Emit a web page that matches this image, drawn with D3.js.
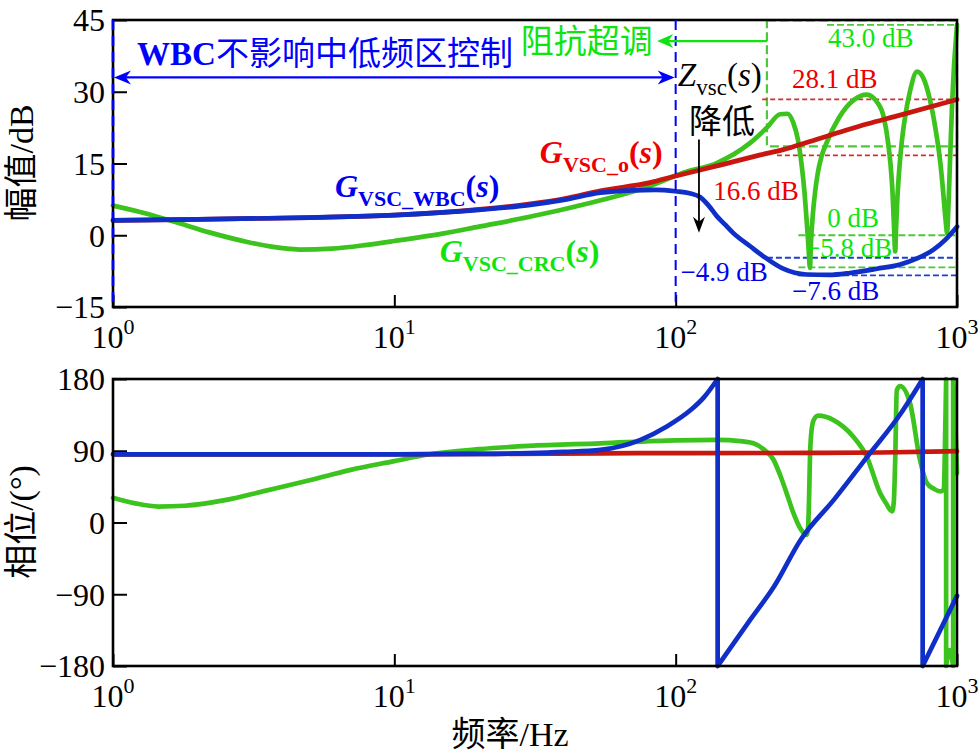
<!DOCTYPE html>
<html><head><meta charset="utf-8">
<script src="https://cdn.jsdelivr.net/npm/d3@7"></script>
<style>body{margin:0;background:#fff}</style></head>
<body>
<svg id="c" width="980" height="753"></svg>
<script>
// ---------------- DATA ----------------
const magTicks = [-15, 0, 15, 30, 45];
const phaseTicks = [-180, -90, 0, 90, 180];
const freqTicks = [1, 10, 100, 1000];
const freqTickExp = ["0", "1", "2", "3"];

// Magnitude (dB)
const redMagF = [1, 2, 5, 10, 20, 30, 40, 54, 81, 100, 140, 200, 241, 300, 400, 482, 600, 800, 1000];
const redMag  = [3.1, 3.3, 3.7, 4.2, 5.4, 6.5, 7.6, 9.3, 11.0, 12.4, 14.5, 16.8, 17.9, 19.6, 21.9, 23.3, 24.8, 26.8, 28.4];

const blueMagF = [1, 2, 5, 10, 20, 30, 40, 54, 70, 85, 100, 112, 122, 131, 140, 150, 160, 184, 205, 241, 292, 350, 417, 520, 628, 725, 825, 910, 1000];
const blueMag  = [3.1, 3.3, 3.7, 4.2, 5.3, 6.3, 7.4, 8.9, 9.4, 9.5, 9.2, 8.8, 8.0, 6.2, 4.0, 2.2, 0.5, -2.3, -4.4, -7.0, -8.2, -8.3, -7.9, -7.0, -6.1, -4.8, -3.0, -0.9, 1.8];

const greenMagF = [1, 1.3, 1.7, 2.2, 3, 4, 4.6, 6, 8, 10, 15, 20, 30, 50, 70, 81, 107, 140, 184, 211, 235, 250, 262, 272, 280, 287, 293, 297, 300, 303, 307, 313, 320, 330, 345, 380, 430, 478, 520, 550, 570, 580, 590, 597, 603, 607, 613, 622, 635, 655, 680, 721, 760, 800, 840, 871, 890, 905, 915, 922, 928, 935, 945, 960, 975, 990, 1000];
const greenMag  = [6.2, 4.6, 2.6, 0.6, -1.4, -2.7, -3.0, -2.8, -2.0, -1.2, 0.4, 1.8, 3.8, 6.8, 9.1, 10.3, 13.1, 15.1, 19.3, 22.5, 25.3, 25.4, 23.5, 20, 15, 9, 2, -3, -6.8, -1, 4, 9, 13, 16.5, 19.5, 24.5, 28.3, 29.4, 27.8, 24.5, 19, 15, 9, 2, -3.4, 1, 7, 13, 19, 25, 30, 34.2, 32.8, 28.5, 22, 15.5, 10, 5, 2, 0.5, 3, 8, 16, 27, 35, 40.5, 44];

// Phase (deg) — repeated frequency = wrap between +180 and -180
const redPhF = [1, 10, 54, 100, 300, 536, 1000];
const redPh  = [85.5, 85.6, 86.8, 87, 87.3, 87.8, 89.5];

const bluePhF = [1, 10, 20, 30, 40, 54, 75, 93, 113, 126, 141, 141, 185, 224, 279, 366, 481, 632, 755, 755, 1000];
const bluePh  = [85.5, 85.5, 86, 87, 88.5, 91, 103.6, 120.4, 141, 157, 180, -180, -121, -80, -21, 29, 83, 137, 180, -180, -92];

const greenPhF = [1, 1.2, 1.45, 1.8, 2.5, 3.5, 5, 7, 10, 13, 20, 30, 54, 100, 141, 170, 189, 205, 223, 236, 248, 262, 279, 292, 295, 298, 300, 303, 309, 321, 364, 428, 478, 533, 560, 578, 588, 596, 603, 611, 628, 681, 739, 781, 830, 871, 894, 915, 915, 941, 969, 969, 985, 1000];
const greenPh  = [31, 24, 20, 21, 28, 40, 53, 66, 77, 85, 92, 96, 99.3, 103, 103.6, 102, 99.3, 92, 78.4, 58, 36.8, 12, -9, -15.4, -10, 30, 78, 110, 128, 134, 128.5, 107.6, 82.6, 36.8, 24, 16, 14, 25, 78, 166, 171, 149.6, 78, 49.6, 42, 39, 41, 180, -180, -160, -180, 180, 130, 62];

// Reference dashed lines: [fStart, fEnd, dB]
const redRefLines   = [[203, 1000, 28.4], [229, 1000, 16.7]];
const greenRefLines = [[345, 1000, 44.0], [273, 1000, 0], [273, 1000, -6.7]];
const blueRefLines  = [[211, 1000, -4.7], [272, 1000, -8.4]];
const greenBox = [211, 1000, 18.6, 44.9];

// ---------------- SETUP ----------------
const svg = d3.select("#c");
const SERIF = "'Liberation Serif','Times New Roman','Noto Sans CJK SC',serif";
const x  = d3.scaleLog().domain([1, 1000]).range([113, 957]);
const yM = d3.scaleLinear().domain([-15, 45]).range([307, 20]);
const yP = d3.scaleLinear().domain([-180, 180]).range([666, 379]);

const C = {
  red: "#c8170f", green: "#3cc31e", blue: "#0f2fc8",
  tRed: "#ee0000", tGreen: "#0ee40e", tBlue: "#0000ee",
  dRed: "#d03030", dGreen: "#4cc83a", dBlue: "#1f3fd0"
};

function zip(f, v) { return f.map((d, i) => ({f: d, v: v[i]})); }

// ---------------- AXES ----------------
function drawPanel(y, ticks, top, bottom) {
  const g = svg.append("g");
  const ax = d3.axisLeft(y).tickValues(ticks).tickSizeInner(-14).tickSizeOuter(0).tickPadding(8)
    .tickFormat(d => d < 0 ? "\u2212" + Math.abs(d) : String(d));
  const ga = g.append("g").attr("transform", `translate(${x.range()[0]},0)`).call(ax);
  ga.select(".domain").remove();
  ga.selectAll(".tick line").attr("stroke", "#000").attr("stroke-width", 2);
  ga.selectAll(".tick text").attr("font-family", SERIF).attr("font-size", 32).attr("fill", "#000").attr("dy", "0.34em");

  const bx = d3.axisBottom(x).tickValues(freqTicks).tickSizeInner(-12).tickSizeOuter(0).tickFormat("");
  const gb = g.append("g").attr("transform", `translate(0,${bottom})`).call(bx);
  gb.select(".domain").remove();
  gb.selectAll(".tick line").attr("stroke", "#000").attr("stroke-width", 2);
  freqTicks.forEach((t, i) => {
    const tx = g.append("text").attr("x", x(t)).attr("y", bottom + 41)
      .attr("text-anchor", "middle").attr("font-family", SERIF).attr("fill", "#000");
    tx.append("tspan").attr("font-size", 32).text("10");
    tx.append("tspan").attr("font-size", 22).attr("dy", -14).text(freqTickExp[i]);
  });
  return g;
}
drawPanel(yM, magTicks, 20, 307);
drawPanel(yP, phaseTicks, 379, 666);

// Axis titles
svg.append("text").attr("transform", "translate(33,163) rotate(-90)").attr("text-anchor", "middle")
  .attr("font-family", SERIF).attr("font-size", 34).text("幅值/dB");
svg.append("text").attr("transform", "translate(33,522) rotate(-90)").attr("text-anchor", "middle")
  .attr("font-family", SERIF).attr("font-size", 34).text("相位/(°)");
svg.append("text").attr("x", 510).attr("y", 746).attr("text-anchor", "middle")
  .attr("font-family", SERIF).attr("font-size", 34).text("频率/Hz");

// ---------------- REFERENCE LINES (magnitude) ----------------
const gRef = svg.append("g");
gRef.append("rect").attr("x", x(greenBox[0])).attr("y", yM(greenBox[3]))
  .attr("width", x(greenBox[1]) - x(greenBox[0])).attr("height", yM(greenBox[2]) - yM(greenBox[3]))
  .attr("fill", "none").attr("stroke", C.dGreen).attr("stroke-width", 2.2).attr("stroke-dasharray", "9,4");
function refLines(arr, color, dash, w) {
  arr.forEach(r => gRef.append("line").attr("x1", x(r[0])).attr("x2", x(r[1]))
    .attr("y1", yM(r[2])).attr("y2", yM(r[2])).attr("stroke", color)
    .attr("stroke-width", w).attr("stroke-dasharray", dash));
}
refLines(redRefLines, C.dRed, "5,3", 1.6);
refLines(greenRefLines, C.dGreen, "7,3", 1.8);
refLines(blueRefLines, C.dBlue, "6,3", 1.8);

// ---------------- CURVES ----------------
const lineM = d3.line().x(d => x(d.f)).y(d => yM(d.v)).curve(d3.curveMonotoneX);
const lineP = d3.line().x(d => x(d.f)).y(d => yP(d.v)).curve(d3.curveMonotoneX);
const SW = 4.7;

function drawMag(f, v, color) {
  svg.append("path").datum(zip(f, v)).attr("d", lineM).attr("fill", "none")
    .attr("stroke", color).attr("stroke-width", SW).attr("stroke-linejoin", "round").attr("stroke-linecap", "round");
}
function drawPhase(f, v, color) {
  const pts = zip(f, v);
  const segs = [[]];
  pts.forEach((p, i) => {
    if (i > 0 && p.f === pts[i - 1].f) segs.push([]);
    segs[segs.length - 1].push(p);
  });
  let d = "";
  segs.forEach((s, i) => {
    if (s.length > 1) d += lineP(s);
    if (i > 0) {
      const a = segs[i - 1][segs[i - 1].length - 1], b = s[0];
      d += `M${x(a.f)},${yP(a.v)}L${x(b.f)},${yP(b.v)}`;
    }
  });
  svg.append("path").attr("d", d).attr("fill", "none").attr("stroke", color)
    .attr("stroke-width", SW).attr("stroke-linejoin", "round").attr("stroke-linecap", "round");
}

drawMag(greenMagF, greenMag, C.green);
drawMag(redMagF, redMag, C.red);
drawMag(blueMagF, blueMag, C.blue);

drawPhase(greenPhF, greenPh, C.green);
drawPhase(redPhF, redPh, C.red);
drawPhase(bluePhF, bluePh, C.blue);

// ---------------- FRAMES ----------------
[[yM, 20, 307], [yP, 379, 666]].forEach(p => {
  svg.append("rect").attr("x", x(1)).attr("y", p[1]).attr("width", x(1000) - x(1)).attr("height", p[2] - p[1])
    .attr("fill", "none").attr("stroke", "#000").attr("stroke-width", 2.6);
});
// blue dashed left edge and 100 Hz divider (magnitude panel)
[1, 100].forEach(f => {
  svg.append("line").attr("x1", x(f)).attr("x2", x(f)).attr("y1", yM(45)).attr("y2", yM(-15))
    .attr("stroke", "#0000ff").attr("stroke-width", f === 1 ? 2.6 : 2).attr("stroke-dasharray", "10,6");
});

// ---------------- ANNOTATIONS ----------------
function head(tx, ty, dir, len, half, color) {
  let pts;
  if (dir === "l") pts = [[tx, ty], [tx + len, ty - half], [tx + len * 0.7, ty], [tx + len, ty + half]];
  if (dir === "r") pts = [[tx, ty], [tx - len, ty - half], [tx - len * 0.7, ty], [tx - len, ty + half]];
  if (dir === "d") pts = [[tx, ty], [tx - half, ty - len], [tx, ty - len * 0.7], [tx + half, ty - len]];
  svg.append("polygon").attr("points", pts.map(p => p.join(",")).join(" ")).attr("fill", color);
}
// Blue double arrow
const ya = yM(33.0);
svg.append("line").attr("x1", x(1) + 4).attr("x2", x(100) - 4).attr("y1", ya).attr("y2", ya)
  .attr("stroke", "#0000ff").attr("stroke-width", 2.2);
head(x(1) + 1, ya, "l", 17, 7, "#0000ff");
head(x(100) - 1, ya, "r", 17, 7, "#0000ff");

// Green arrow
const yg = yM(40.6);
svg.append("line").attr("x1", x(211)).attr("x2", x(86) + 6).attr("y1", yg).attr("y2", yg)
  .attr("stroke", "#0ee40e").attr("stroke-width", 2.2);
head(x(86), yg, "l", 16, 7, "#0ee40e");

// Black arrow
svg.append("line").attr("x1", x(121)).attr("x2", x(121)).attr("y1", yM(20)).attr("y2", yM(0.5) - 8)
  .attr("stroke", "#000").attr("stroke-width", 1.8);
head(x(121), yM(0.5), "d", 16, 6, "#000");

function txt(f, dB, str, size, color, anchor, weight) {
  return svg.append("text").attr("x", x(f)).attr("y", yM(dB)).attr("font-family", SERIF)
    .attr("font-size", size).attr("fill", color).attr("text-anchor", anchor || "start")
    .attr("font-weight", weight || "normal").text(str);
}
// WBC label
const wl = svg.append("text").attr("x", x(5.67)).attr("y", yM(35.5)).attr("text-anchor", "middle")
  .attr("font-family", SERIF).attr("font-size", 33).attr("fill", "#0000ff");
wl.append("tspan").attr("font-weight", "bold").text("WBC");
wl.append("tspan").text("不影响中低频区控制");

txt(48.3, 38.2, "阻抗超调", 33, "#0ee40e", "middle");
txt(146, 21.3, "降低", 33, "#000", "middle");

function subLabel(f, dB, main, sub, color, size, subSize, weight) {
  const t = svg.append("text").attr("x", x(f)).attr("y", yM(dB)).attr("font-family", SERIF)
    .attr("fill", color).attr("font-weight", weight);
  t.append("tspan").attr("font-size", size).attr("font-style", "italic").text(main);
  t.append("tspan").attr("font-size", subSize).attr("dy", 9).text(sub);
  t.append("tspan").attr("font-size", size).attr("dy", -9).text("(");
  t.append("tspan").attr("font-size", size).attr("font-style", "italic").text("s");
  t.append("tspan").attr("font-size", size).text(")");
}
subLabel(101.8, 31.3, "Z", "vsc", "#000", 33, 23, "normal");
subLabel(32.9, 15.2, "G", "VSC_o", C.tRed, 32, 22, "bold");
subLabel(6.15, 8.1, "G", "VSC_WBC", C.tBlue, 32, 22, "bold");
subLabel(14.5, -5.5, "G", "VSC_CRC", C.tGreen, 32, 22, "bold");

txt(348, 39.3, "43.0 dB", 27, C.tGreen);
txt(259, 30.7, "28.1 dB", 27, C.tRed);
txt(136, 7.3, "16.6 dB", 27, C.tRed);
txt(346, 1.8, "0 dB", 27, C.tGreen);
txt(288, -4.5, "\u22125.8 dB", 27, C.tGreen);
txt(104, -9.6, "\u22124.9 dB", 27, C.tBlue);
txt(259, -13.5, "\u22127.6 dB", 27, C.tBlue);
</script>
</body></html>
